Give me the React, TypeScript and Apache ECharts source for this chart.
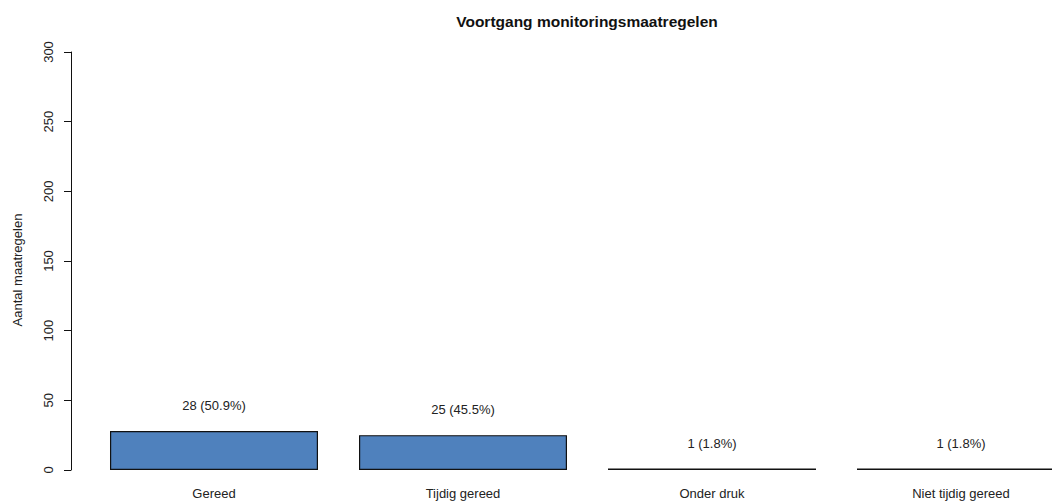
import React, { useEffect, useRef } from "react";
import * as echarts from "echarts";

const categories = ["Gereed", "Tijdig gereed", "Onder druk", "Niet tijdig gereed"];
const counts = [28, 25, 1, 1];
const percents = ["50.9%", "45.5%", "1.8%", "1.8%"];
const yTicks = { min: 0, max: 300, interval: 50 };
const title = "Voortgang monitoringsmaatregelen";
const yName = "Aantal maatregelen";

const FONT = "'Liberation Sans', Arial, sans-serif";

export default function App() {
  const ref = useRef<HTMLDivElement>(null);
  useEffect(() => {
    if (!ref.current) return;
    const chart = echarts.init(ref.current, null, { renderer: "svg" });
    chart.setOption({
      animation: false,
      backgroundColor: "#ffffff",
      textStyle: { fontFamily: FONT },
      graphic: [
        {
          type: "text",
          x: 587,
          y: 21,
          style: {
            text: title,
            textAlign: "center",
            textVerticalAlign: "middle",
            font: `bold 15.5px ${FONT}`,
            fill: "#111",
          },
        },
        {
          type: "text",
          x: 17,
          y: 270,
          rotation: Math.PI / 2,
          style: {
            text: yName,
            textAlign: "center",
            textVerticalAlign: "middle",
            font: `13px ${FONT}`,
            fill: "#222",
          },
        },
      ],
      grid: { left: 89.5, right: 14.5, top: 52, bottom: 31, containLabel: false },
      xAxis: {
        type: "category",
        data: categories,
        axisLine: { show: false },
        axisTick: { show: false },
        axisLabel: { margin: 17, fontSize: 13, color: "#222", fontFamily: FONT },
      },
      yAxis: {
        type: "value",
        min: yTicks.min,
        max: yTicks.max,
        interval: yTicks.interval,
        offset: 18.5,
        splitLine: { show: false },
        axisLine: { show: true, lineStyle: { color: "#111", width: 1 } },
        axisTick: { show: true, length: 7, lineStyle: { color: "#111" } },
        axisLabel: { rotate: 90, margin: 16, fontSize: 13, color: "#222", fontFamily: FONT },
      },
      series: [
        {
          type: "bar",
          data: counts,
          barWidth: 208,
          itemStyle: { color: "#4F81BD", borderColor: "#111", borderWidth: 1.2 },
          label: {
            show: true,
            position: "top",
            distance: 19,
            fontSize: 13,
            color: "#222",
            fontFamily: FONT,
            formatter: (p: any) => `${p.value} (${percents[p.dataIndex]})`,
          },
        },
      ],
    });
    return () => chart.dispose();
  }, []);
  return (
    <div
      ref={ref}
      style={{ position: "fixed", left: 0, top: 0, width: 1100, height: 501 }}
    />
  );
}
